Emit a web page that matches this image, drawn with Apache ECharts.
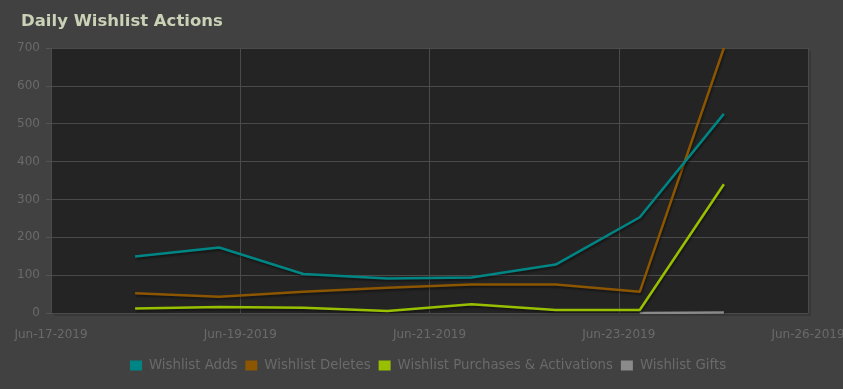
<!DOCTYPE html>
<html>
<head>
<meta charset="utf-8">
<script src="https://cdn.jsdelivr.net/npm/echarts@6/dist/echarts.min.js"></script>
<style>
html,body{margin:0;padding:0;background:#414141;}
#chart{width:843px;height:389px;}
</style>
</head>
<body>
<div id="chart"></div>
<script>
// ---- data ----
var axisStart = '2019-06-17';
var axisEnd = '2019-06-26';
var dates = ['2019-06-18','2019-06-19','2019-06-20','2019-06-21','2019-06-22','2019-06-23','2019-06-24','2019-06-25'];
var wishlistAdds = [149, 173, 103, 91, 94, 128, 253, 526];
var wishlistDeletes = [52, 43, 56, 67, 75, 75, 56, 700];
var wishlistPurchases = [12, 16, 14, 5, 23, 8, 8, 340];
var wishlistGifts = [null, null, null, null, null, null, 0, 1];
var seriesNames = ['Wishlist Adds', 'Wishlist Deletes', 'Wishlist Purchases & Activations', 'Wishlist Gifts'];
var seriesColors = ['#008585', '#8c5500', '#98c000', '#8a8a8a'];
var yTicks = [0, 100, 200, 300, 400, 500, 600, 700];
var months = ['Jan','Feb','Mar','Apr','May','Jun','Jul','Aug','Sep','Oct','Nov','Dec'];

var DAY = 86400000;
function parseDay(s){ var p = s.split('-'); return Date.UTC(+p[0], +p[1]-1, +p[2]); }
var t0 = parseDay(axisStart);
var spanDays = (parseDay(axisEnd) - t0) / DAY;
function dayIdx(s){ return (parseDay(s) - t0) / DAY; }
function pad(n){ return n < 10 ? '0' + n : '' + n; }
function fmt(v){
  var d = new Date(t0 + Math.floor(v + 1e-6) * DAY);
  return months[d.getUTCMonth()] + '-' + pad(d.getUTCDate()) + '-' + d.getUTCFullYear();
}
function pairs(vals){ return dates.map(function(d, i){ return [dayIdx(d), vals[i]]; }); }

var allVals = [wishlistAdds, wishlistDeletes, wishlistPurchases, wishlistGifts];

var chart = echarts.init(document.getElementById('chart'), null, {renderer:'canvas'});
var option = {
  backgroundColor: '#414141',
  animation: false,
  title: {
    text: 'Daily Wishlist Actions',
    left: 16, top: 8,
    textStyle: {color: '#c9d1b7', fontSize: 16.5, fontWeight: 'bold', fontFamily: 'DejaVu Sans'}
  },
  legend: {
    top: 359,
    left: 130,
    padding: 0,
    itemWidth: 12, itemHeight: 10, itemGap: 8,
    icon: 'rect',
    textStyle: {color: '#6a6a6a', fontSize: 13.3, fontFamily: 'DejaVu Sans', padding: [0, 0, 0, 2]},
    data: seriesNames.map(function(n, i){ return {name: n, itemStyle: {color: seriesColors[i]}}; })
  },
  grid: {left: 51, right: 35, top: 48, bottom: 76, show: true, backgroundColor: '#242424', borderWidth: 0,
    outerBoundsMode: 'none', containLabel: false,
    shadowColor: 'rgba(0,0,0,0.13)', shadowOffsetX: 3, shadowOffsetY: 3, shadowBlur: 0},
  xAxis: {
    type: 'value', min: 0, max: spanDays, interval: spanDays / 4,
    axisLine: {show: false},
    axisTick: {show: false},
    splitLine: {show: true, lineStyle: {color: '#4a4a4a', width: 1}},
    axisLabel: {color: '#6a6a6a', fontSize: 12, fontFamily: 'DejaVu Sans', margin: 16, formatter: fmt,
      showMinLabel: true, showMaxLabel: true, hideOverlap: false}
  },
  yAxis: {
    type: 'value', min: yTicks[0], max: yTicks[yTicks.length-1], interval: yTicks[1]-yTicks[0],
    axisLine: {show: false},
    axisTick: {show: true, length: 5, lineStyle: {color: '#555555'}},
    splitLine: {show: true, lineStyle: {color: '#4a4a4a', width: 1}},
    axisLabel: {color: '#6a6a6a', fontSize: 12, fontFamily: 'DejaVu Sans', margin: 11}
  },
  series: seriesNames.map(function(n, i){
    return {
      name: n, type: 'line', data: pairs(allVals[i]), showSymbol: false, symbol: 'none',
      connectNulls: false,
      itemStyle: {color: seriesColors[i]},
      lineStyle: {color: seriesColors[i], width: 2.5, shadowColor: 'rgba(0,0,0,0.4)', shadowBlur: 2, shadowOffsetX: 1, shadowOffsetY: 2},
      z: 10 - i
    };
  })
};
chart.setOption(option);
</script>
</body>
</html>
